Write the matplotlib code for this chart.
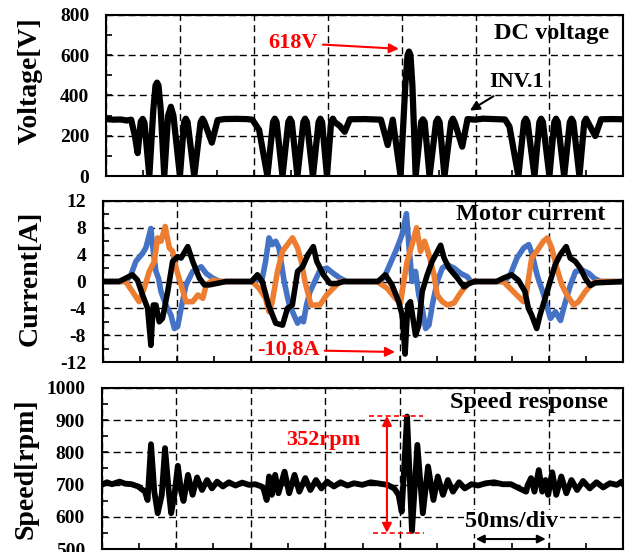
import matplotlib
matplotlib.use('Agg')
import matplotlib.pyplot as plt
from matplotlib.ticker import MultipleLocator

plt.rcParams['font.family'] = ['Liberation Serif', 'DejaVu Serif']
plt.rcParams['font.weight'] = 'bold'
plt.rcParams['axes.unicode_minus'] = False

# ---- DC voltage (time in ms, volts) ----
volt_t = [0, 5, 10, 14, 17, 19.5, 21.4, 23.5, 24.8, 26, 29.3, 32, 33.5, 34.5, 35.5, 37, 39.4,
          42, 43.9, 45.6, 50, 52.8, 54, 55.2, 59.7, 64, 65.3, 66.6, 71.6, 75.5, 80, 88, 95, 99,
          103.6, 109.2, 113, 114.2, 115.4, 119.4, 123.3, 124.5, 125.7, 129.5, 133.5, 134.7,
          135.9, 140, 143.8, 145, 146.2, 149.5, 152.3, 153.5, 154.7, 158, 161.5, 165, 175, 186,
          190.6, 194, 199.3, 202.5, 204, 205, 206, 207.3, 209.5, 213.2, 214.4, 215.6, 218.9,
          223.3, 224.5, 225.7, 229, 233.5, 234.7, 236, 241, 244.6, 250, 255, 262, 270, 273,
          279, 282.8, 284, 285.2, 289.9, 293.2, 294.4, 295.6, 300, 303.3, 304.5, 305.7, 310,
          313.8, 315, 316.2, 320.3, 323.6, 324.8, 326, 331, 335, 342, 350]
volt_v = [283, 280, 281, 276, 280, 200, 114, 270, 284, 265, 0, 330, 450, 464, 450, 330, 0,
          300, 344, 300, 0, 268, 285, 268, 0, 268, 285, 268, 166, 278, 283, 284, 283, 280,
          229, 0, 268, 285, 268, 0, 268, 285, 268, 0, 268, 285,
          268, 0, 268, 285, 268, 0, 268, 285, 268, 250, 220, 282, 283, 280,
          154, 280, 0, 450, 600, 618, 600, 450, 0, 268, 282, 268, 0,
          268, 285, 268, 0, 268, 285, 265, 146, 283, 280, 285, 283, 281, 245,
          0, 268, 285, 268, 0, 268, 285, 268, 0, 268, 285, 268, 0,
          268, 285, 268, 0, 268, 285, 268, 199, 282, 283, 282]

# ---- Motor current (time in ms, amps) ----
blue_t = [0, 15.5, 19, 22.3, 26.8, 29, 32.4, 33.5, 35.8, 37.5, 39.2, 42.5, 45.9, 48.2, 50.4,
          52.7, 56, 60.5, 66.2, 69.6, 74, 78.6,
          101, 107.3, 109.5, 111.8, 114, 116.3, 118.5, 122, 125.4, 127.6, 131, 133.3, 135,
          137, 139.4, 146.1, 150.6, 155.1, 159.6, 164.1,
          186.6, 190, 193.4, 197.9, 201.3, 204.2, 205.8, 208, 210.3, 212.5, 214.8, 217.1,
          219.3, 221.6, 224.9, 228.3, 231.7, 236.2, 240.7, 245.2, 247.5,
          270, 274, 278.5, 283, 286.4, 288.6, 292, 296.5, 301, 304.4, 307.8, 311.1, 314.5,
          317.9, 322.4, 326.9, 330.3, 334.8, 350]
blue_i = [0, 0, 1, 3, 4.2, 5, 7.9, 5.4, 1.5, 0.5, -1.5, -3.5, -5, -7, -6.7,
          -4, -0.5, 1.5, 2.2, 1.2, 0.5, 0,
          0, 0.5, 3, 6.5, 5.5, 6, 5, 0, -3.5, -4.5, -6.2, -5.5, -6,
          -3.5, -1.5, 1.7, 2, 1.2, 0.5, 0,
          0, 1, 2.7, 5, 7, 10.1, 5.5, 0, 1.5, -2, -4, -7,
          -6.5, -3.5, 0, 2, 2.5, 2, 1.2, 0.7, 0,
          0, 1, 3.5, 5, 5.5, 4.2, 1, -2, -5.5, -4.5, -5.8, -3, -0.5,
          1.5, 1.7, 1.2, 0.5, 0, 0]

orange_t = [0, 15.5, 20, 24.5, 27.9, 31.3, 34.7, 36.9, 39.2, 42, 44.8, 47, 49.3, 52.7, 56,
            60.5, 64, 67.3, 69.6, 74, 78,
            100.5, 105.1, 109.5, 111.8, 114, 117.5, 120.9, 124.2, 127.6, 131, 133.5, 136,
            140, 146, 150.6, 155, 159.5,
            184.4, 191.2, 196.8, 200.2, 202.4, 204.7, 208, 211, 213.7, 216.4, 219.3, 222.7,
            224.9, 228.3, 231.7, 236.2, 239.6, 242.9, 246, 249,
            269.3, 273.8, 278.3, 282.8, 285, 288.4, 291.8, 296.3, 299, 301.9, 305.3, 308.7,
            312.1, 316.6, 319.9, 324.4, 329, 333, 350]
orange_i = [0, 0, -1.5, -3, -1, 1.5, 3, 6.5, 6, 8.2, 5, 4.5, 2, -0.5, -3,
            -3, -2, -2.5, -0.5, 0.2, 0,
            0, -1, -2.5, -4.5, -3, 1.5, 4.5, 5.5, 6.5, 5, 3, 0,
            -3.5, -3.5, -2, -1, 0,
            0, -1, -2.5, -3.2, 0, 3, 5.5, 8, 4.5, 6, 4, 1,
            -2, -3, -3.5, -3.2, -2, -1, -0.3, 0,
            0, -1, -2, -3, -1.5, 3.5, 4.5, 6, 6.5, 5, 2, -0.5,
            -2, -3.5, -3, -1.5, -0.3, 0, 0]

black_t = [0, 11, 15.5, 20, 23.4, 26.8, 30.2, 32.4, 34, 35.8, 38, 40.2, 43.7, 47, 50.4,
           52.7, 57.2, 60.5, 65, 68.4, 71.8, 76.3, 83,
           100, 104, 107.3, 111.5, 116.3, 120.9, 124.2, 127.5, 131, 134.4, 136, 138, 141.6,
           143.9, 148.4, 152.9, 157.4, 162,
           185, 190, 194.5, 199, 201.3, 203.3, 205.1, 206.9, 210.3, 212.5, 214.8, 218.2,
           221.5, 227.2, 229.5, 232.8, 238.5, 242.9, 246.3, 250,
           264.8, 269.3, 274.9, 279.4, 283.9, 286.2, 288.4, 291.8, 294, 297.4, 300.8, 304.2,
           307.6, 311.6, 314.3, 317.7, 321.1, 324.4, 327.8, 331.2, 350]
black_i = [0, 0, 0.5, 1, 0.2, -2, -4, -9.5, -3.5, -3.5, -6, -5.5, -1.5, 3, 3.7,
           3.5, 5.2, 3, 0.5, -0.5, -0.5, -0.3, 0,
           0, 1, 0, -3.5, -6.2, -6.5, -4, -3.5, 1.5, 2.2, 3, 4, 5.2,
           3, 1, -0.3, -0.3, 0,
           0, 1, -0.5, -3, -5, -10.8, -3.5, -3, -8, -6.5, -1.5, 1,
           3, 5.4, 3.5, 2, 0.5, -0.8, -0.3, 0,
           0, 0.5, 1, 0.2, -1.5, -4, -5, -7, -5, -2.5, 0, 2.5,
           4, 5.2, 3.5, 3, 2, 0.5, -0.6, -0.2, 0]

# ---- Speed (time in ms, rpm) ----
speed_t = [0, 3.5, 6.8, 12, 15.5, 20, 24.5, 29, 30.8, 33.1, 35.3, 37.6, 40.3, 42.5, 44.8,
           46.6, 48.8, 51.1, 53.3, 54.9, 57.9, 61, 64, 67.3, 70.7, 74, 77.4, 81.3, 85.3,
           89.8, 94.3, 98.8, 103, 107.3, 108.5, 110.7, 112.3, 114.1, 116.4, 118.6, 122.7,
           125.8, 129.4, 132.6, 136.6, 140, 143.8, 147.4, 151.3, 155.8, 160.3, 164.8,
           169.3, 174.9, 180.5, 186.2, 191.8, 196.3, 199.2, 201.3, 204.9, 208.2, 211.8,
           215.5, 219, 222.6, 225.5, 229, 232.3, 235.7, 239.8, 243.6, 248.1, 252.6,
           257.7, 263.4, 269, 274.6, 280.2, 284.8, 285.9, 288.1, 290.4, 293.3, 295.6,
           297.8, 299.6, 302.3, 305, 308.4, 311.8, 315.2, 319, 323, 327.5, 332, 336.5,
           341, 345.6, 348.9, 350]
speed_n = [699, 707, 701, 709, 703, 701, 694, 678, 652, 825, 678, 611, 668, 813, 688,
           611, 668, 758, 678, 649, 730, 668, 722, 683, 714, 688, 709, 694, 707,
           697, 706, 699, 701, 694, 688, 652, 725, 668, 730, 673, 740,
           673, 730, 678, 720, 683, 714, 688, 709, 694, 707, 697,
           704, 699, 707, 703, 699, 688, 668, 616, 911, 556, 823,
           611, 756, 652, 725, 668, 714, 678, 707, 688, 701, 697,
           704, 707, 701, 701, 688, 678, 699, 720, 678, 745, 678,
           714, 668, 738, 668, 725, 673, 714, 683, 711, 688, 707, 691,
           704, 699, 709, 701]

BLUE = '#4472C4'
ORANGE = '#ED7D31'
GRID = dict(color='black', linestyle=(0, (5, 3)), linewidth=1.0)


def style_axes(ax, ylim, major, minor, pad=12):
    ax.set_xlim(0, 350)
    ax.set_ylim(*ylim)
    ax.xaxis.set_major_locator(MultipleLocator(50))
    ax.xaxis.set_minor_locator(MultipleLocator(25))
    ax.yaxis.set_major_locator(MultipleLocator(major))
    ax.yaxis.set_minor_locator(MultipleLocator(minor))
    ax.tick_params(axis='both', which='both', direction='in', length=4, width=1.2,
                   top=False, right=False, labelbottom=False, labelsize=14, pad=pad)
    ax.grid(True, which='major', **GRID)
    ax.set_axisbelow(True)
    for sp in ax.spines.values():
        sp.set_linewidth(1.5)


fig = plt.figure(figsize=(6.27, 5.52), dpi=100)
ax1 = fig.add_axes([0.1691, 0.681, 0.825, 0.292])
ax2 = fig.add_axes([0.1638, 0.344, 0.8303, 0.292])
ax3 = fig.add_axes([0.1622, 0.0054, 0.8319, 0.292])

# DC voltage
ax1.plot(volt_t, volt_v, color='black', lw=4.5, solid_joinstyle='round')
style_axes(ax1, (0, 800), 200, 100)
ax1.set_ylabel('Voltage[V]', fontsize=20, fontweight='bold')
ax1.yaxis.set_label_coords(-0.122, 0.59)
ax1.text(0.973, 0.885, 'DC voltage', transform=ax1.transAxes, ha='right', va='center',
         fontsize=17.5, fontweight='bold')
ax1.annotate('618V', xy=(200, 631), xytext=(109.5, 661), color='red', fontsize=16,
             fontweight='bold', ha='left', va='center',
             arrowprops=dict(arrowstyle='-|>', color='red', lw=1.5, mutation_scale=14))
ax1.annotate('INV.1', xy=(244.6, 318), xytext=(259.5, 467), color='black', fontsize=16,
             fontweight='bold', ha='left', va='center',
             arrowprops=dict(arrowstyle='-|>', color='black', lw=1.5, mutation_scale=14))

# Motor current
ax2.plot(blue_t, blue_i, color=BLUE, lw=4, solid_joinstyle='round')
ax2.plot(orange_t, orange_i, color=ORANGE, lw=4, solid_joinstyle='round')
ax2.plot(black_t, black_i, color='black', lw=4, solid_joinstyle='round')
style_axes(ax2, (-12, 12), 4, 2)
ax2.set_ylabel('Current[A]', fontsize=20, fontweight='bold')
ax2.yaxis.set_label_coords(-0.115, 0.52)
ax2.text(0.965, 0.913, 'Motor current', transform=ax2.transAxes, ha='right', va='center',
         fontsize=17.5, fontweight='bold')
ax2.annotate('-10.8A', xy=(198.4, -10.5), xytext=(103.5, -10.2), color='red', fontsize=16,
             fontweight='bold', ha='left', va='center',
             arrowprops=dict(arrowstyle='-|>', color='red', lw=1.5, mutation_scale=14))

# Speed response
ax3.plot(speed_t, speed_n, color='black', lw=4.2, solid_joinstyle='round')
style_axes(ax3, (500, 1000), 100, 50)
ax3.set_ylabel('Speed[rpm]', fontsize=20, fontweight='bold')
ax3.yaxis.set_label_coords(-0.122, 0.5)
ax3.text(0.97, 0.907, 'Speed response', transform=ax3.transAxes, ha='right', va='center',
         fontsize=17.5, fontweight='bold')
ax3.plot([179.4, 215.7], [913, 913], color='red', lw=1.2, linestyle=(0, (3, 2)))
ax3.plot([181.8, 216.5], [550, 550], color='red', lw=1.2, linestyle=(0, (3, 2)))
ax3.annotate('', xy=(191.4, 550), xytext=(191.4, 913),
             arrowprops=dict(arrowstyle='<|-|>', color='red', lw=1.5, mutation_scale=14,
                             shrinkA=0, shrinkB=0))
ax3.text(148.8, 838, '352rpm', color='red', fontsize=16, fontweight='bold',
         ha='center', va='center')
ax3.text(275.3, 585, '50ms/div', color='black', fontsize=17.5, fontweight='bold',
         ha='center', va='center',
         bbox=dict(facecolor='white', edgecolor='none', pad=1))
ax3.annotate('', xy=(298, 531), xytext=(251, 531),
             arrowprops=dict(arrowstyle='<|-|>', color='black', lw=1.5, mutation_scale=12,
                             shrinkA=0, shrinkB=0))

fig.savefig('out.png', dpi=100)
